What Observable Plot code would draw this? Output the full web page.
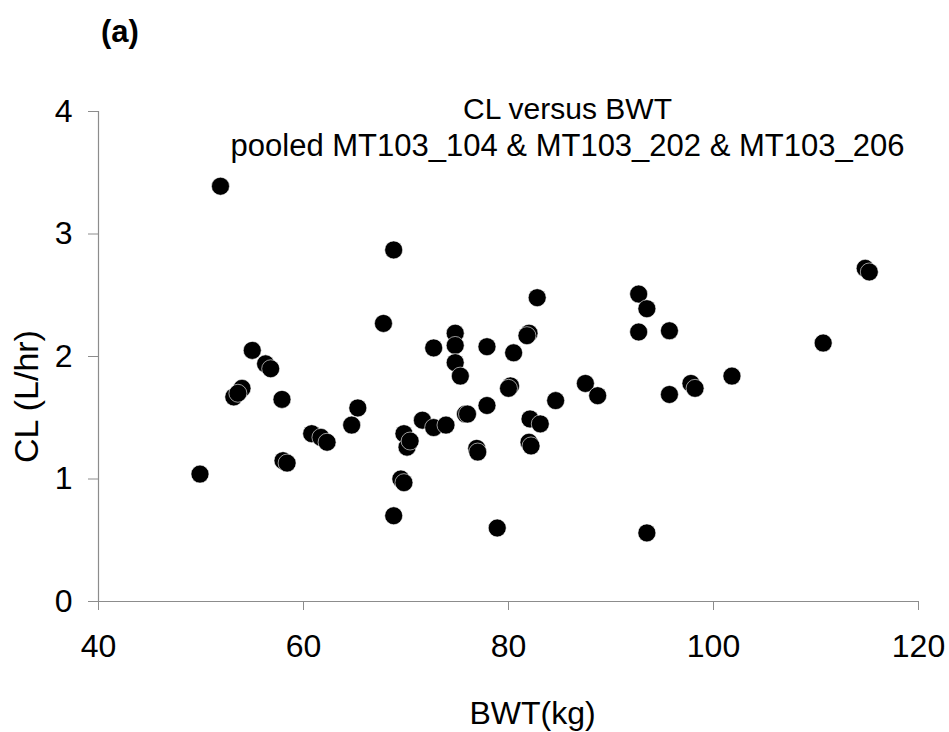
<!DOCTYPE html>
<html>
<head>
<meta charset="utf-8">
<script src="https://cdn.jsdelivr.net/npm/d3@7"></script>
<script src="https://cdn.jsdelivr.net/npm/@observablehq/plot@0.6"></script>
<style>
  html, body { margin: 0; padding: 0; background: #fff; }
  #wrap { position: relative; width: 949px; height: 732px; }
  #panel { position: absolute; left: 101px; top: 16px; font: bold 31px/1 "Liberation Sans", Arial, sans-serif; color: #000; }
</style>
</head>
<body>
<div id="wrap"><div id="panel">(a)</div></div>
<script>
const bwt = [51.9, 49.9, 55.0, 56.3, 56.8, 53.2, 54.0, 53.6, 57.9, 58.0, 58.4,
  60.8, 61.7, 62.3, 64.7, 65.3, 67.8, 68.8, 68.8, 69.5, 69.8, 69.8, 70.1, 70.4,
  71.6, 72.7, 73.9, 72.7, 74.8, 74.8, 74.8, 75.3, 75.8, 76.0, 76.9, 77.0, 77.9,
  77.9, 78.9, 80.2, 80.0, 80.5, 82.0, 81.8, 82.1, 83.1, 82.0, 82.2, 82.8, 84.6,
  87.5, 88.7, 92.7, 93.5, 92.7, 95.7, 93.5, 95.7, 97.8, 98.2, 101.8, 110.7,
  114.8, 115.2];
const cl = [3.39, 1.04, 2.05, 1.94, 1.90, 1.67, 1.74, 1.70, 1.65, 1.15, 1.13,
  1.37, 1.34, 1.30, 1.44, 1.58, 2.27, 2.87, 0.70, 1.00, 0.97, 1.37, 1.26, 1.31,
  1.48, 1.42, 1.44, 2.07, 2.19, 2.09, 1.95, 1.84, 1.53, 1.53, 1.25, 1.22, 2.08,
  1.60, 0.60, 1.76, 1.74, 2.03, 2.19, 2.17, 1.49, 1.45, 1.30, 1.27, 2.48, 1.64,
  1.78, 1.68, 2.51, 2.39, 2.20, 2.21, 0.56, 1.69, 1.78, 1.74, 1.84, 2.11,
  2.72, 2.69];
const xTicks = [40, 60, 80, 100, 120];
const yTicks = [0, 1, 2, 3, 4];
const titleLines = ["CL versus BWT", "pooled MT103_104 & MT103_202 & MT103_206"];
const xLabel = "BWT(kg)";
const yLabel = "CL (L/hr)";

const data = bwt.map((x, i) => ({x, y: cl[i]}));
const axisColor = "#8c8c8c";

const chart = Plot.plot({
  width: 949,
  height: 732,
  marginLeft: 98,
  marginRight: 31,
  marginTop: 111,
  marginBottom: 131,
  style: {fontFamily: "'Liberation Sans', Arial, sans-serif", fontSize: "32px", background: "transparent", color: "#000"},
  x: {domain: [40, 120]},
  y: {domain: [0, 4]},
  marks: [
    Plot.ruleX([40], {stroke: axisColor, strokeWidth: 1.2}),
    Plot.ruleY([0], {stroke: axisColor, strokeWidth: 1.2}),
    Plot.axisX({ticks: xTicks, tickSize: 9, tickPadding: 24, stroke: axisColor, fill: "#000", label: null}),
    Plot.axisY({ticks: yTicks, tickFormat: d3.format("d"), tickSize: 10, tickPadding: 16, stroke: axisColor, fill: "#000", label: null}),
    Plot.dot(data, {x: "x", y: "y", r: 9, fill: "#000", stroke: "#fff", strokeWidth: 0.6}),
    Plot.text([titleLines[0]], {text: d => d, frameAnchor: "top", lineAnchor: "bottom", dx: 59, dy: 7, fontSize: 30, fill: "#000"}),
    Plot.text([titleLines[1]], {text: d => d, frameAnchor: "top", lineAnchor: "bottom", dx: 59, dy: 44, fontSize: 31, fill: "#000"}),
    Plot.text([xLabel], {text: d => d, frameAnchor: "bottom", lineAnchor: "bottom", dx: 24, dy: 122, fontSize: 32, fill: "#000"}),
    Plot.text([yLabel], {text: d => d, frameAnchor: "left", textAnchor: "middle", rotate: -90, dx: -71, dy: 40, fontSize: 34, fill: "#000"})
  ]
});
document.getElementById("wrap").appendChild(chart);
chart.style.position = "absolute";
chart.style.left = "0";
chart.style.top = "0";
</script>
</body>
</html>
